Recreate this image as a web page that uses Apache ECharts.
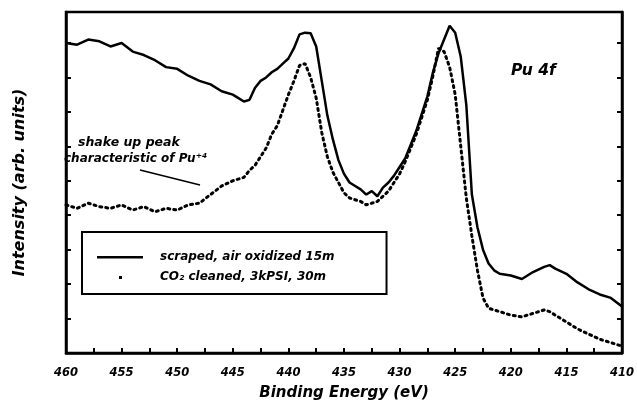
<!DOCTYPE html>
<html><head><meta charset="utf-8">
<script src="https://cdn.jsdelivr.net/npm/echarts@6/dist/echarts.min.js"></script>
<style>html,body{margin:0;padding:0;background:#fff}#c{width:637px;height:404px}</style>
</head><body><div id="c"></div>
<script>
// Binding energies (eV) and intensities (arb. units, tick units)
const scrapedEnergy = [460,459,458,457,456,455,454,453,452,451,450,449,448,447,446,445,444,443.5,443,442.5,442,441.5,441,440.5,440,439.5,439,438.5,438,437.5,437,436.5,436,435.5,435,434.5,434,433.5,433,432.5,432,431.5,431,430.5,430,429.5,429,428.5,428,427.5,427,426.5,426,425.5,425,424.5,424,423.5,423,422.5,422,421.5,421,420,419,418,417,416.5,416,415,414,413,412,411,410];
const scrapedIntensity = [9.0,8.95,9.1,9.05,8.9,9.0,8.75,8.65,8.5,8.3,8.25,8.05,7.9,7.8,7.6,7.5,7.3,7.35,7.7,7.9,8.0,8.15,8.25,8.4,8.55,8.85,9.25,9.3,9.28,8.9,7.9,6.9,6.2,5.6,5.2,4.95,4.85,4.75,4.6,4.7,4.55,4.8,4.95,5.15,5.4,5.65,6.05,6.45,6.95,7.45,8.15,8.7,9.1,9.5,9.3,8.6,7.2,4.6,3.65,3.0,2.6,2.4,2.3,2.25,2.15,2.35,2.5,2.55,2.45,2.3,2.05,1.85,1.7,1.6,1.35];
const cleanedEnergy = [460,459,458,457,456,455,454,453,452,451,450,449,448,447,446,445,444,443.5,443,442.5,442,441.5,441,440.5,440,439.5,439,438.5,438,437.5,437,436.5,436,435.5,435,434.5,434,433.5,433,432.5,432,431.5,431,430.5,430,429.5,429,428.5,428,427.5,427,426.5,426,425.5,425,424.5,424,423.5,423,422.5,422,421.5,421,420,419,418,417,416.5,416,415,414,413,412,411,410];
const cleanedIntensity = [4.3,4.2,4.35,4.25,4.2,4.3,4.15,4.25,4.1,4.2,4.15,4.3,4.35,4.6,4.85,5.0,5.1,5.3,5.45,5.7,5.95,6.35,6.6,7.05,7.5,7.9,8.35,8.4,8.0,7.4,6.4,5.7,5.25,4.95,4.65,4.5,4.45,4.4,4.3,4.35,4.4,4.55,4.7,4.95,5.2,5.55,5.95,6.35,6.85,7.35,8.05,8.85,8.75,8.3,7.5,6.0,4.5,3.4,2.4,1.6,1.3,1.25,1.2,1.1,1.05,1.15,1.25,1.2,1.1,0.9,0.7,0.55,0.4,0.3,0.2];
const seriesNames = ['scraped, air oxidized 15m', 'CO\u2082 cleaned, 3kPSI, 30m'];
const xTicks = {min: 410, max: 460, interval: 5};

const FONT = '"DejaVu Sans", sans-serif';
const pair = (xs, ys) => xs.map((x, i) => [x, ys[i]]);

const chart = echarts.init(document.getElementById('c'), null, {renderer: 'canvas'});
chart.setOption({
  animation: false,
  backgroundColor: '#fff',
  grid: {left: 66, right: 15, top: 12, bottom: 51, show: true, borderColor: '#000', borderWidth: 2.5, containLabel: false, outerBoundsMode: 'none'},
  xAxis: {
    type: 'value', inverse: true, min: xTicks.min, max: xTicks.max, interval: xTicks.interval,
    name: 'Binding Energy (eV)', nameLocation: 'middle', nameGap: 33,
    nameTextStyle: {color: '#000', fontFamily: FONT, fontWeight: 'bold', fontStyle: 'italic', fontSize: 15},
    axisLine: {lineStyle: {color: '#000', width: 2.5}},
    axisTick: {inside: true, length: 5, lineStyle: {color: '#000', width: 2}},
    minorTick: {show: true, splitNumber: 2, length: 5, lineStyle: {color: '#000', width: 2}},
    splitLine: {show: false},
    axisLabel: {color: '#000', fontFamily: FONT, fontWeight: 'bold', fontStyle: 'italic', fontSize: 11.5, margin: 14}
  },
  yAxis: [{
    type: 'value', min: 0, max: 9.9, interval: 1,
    name: 'Intensity (arb. units)', nameLocation: 'middle', nameGap: 38, nameRotate: 90,
    nameTextStyle: {color: '#000', fontFamily: FONT, fontWeight: 'bold', fontStyle: 'italic', fontSize: 16},
    axisLine: {show: true, lineStyle: {color: '#000', width: 2.5}},
    axisTick: {show: true, inside: true, length: 5, lineStyle: {color: '#000', width: 2}},
    axisLabel: {show: false}, splitLine: {show: false}
  }, {
    type: 'value', min: 0, max: 9.9, interval: 1, position: 'right',
    axisLine: {show: true, lineStyle: {color: '#000', width: 2.5}},
    axisTick: {show: true, inside: true, length: 5, lineStyle: {color: '#000', width: 2}},
    axisLabel: {show: false}, splitLine: {show: false}
  }],
  legend: {
    orient: 'vertical', left: 82, top: 232,
    padding: [19, 52, 11, 15], itemGap: 8, itemWidth: 46, itemHeight: 12,
    borderColor: '#000', borderWidth: 2, borderRadius: 0,
    selectedMode: false,
    textStyle: {color: '#000', fontFamily: FONT, fontWeight: 'bold', fontStyle: 'italic', fontSize: 12, padding: [0, 0, 0, 12]},
    data: [
      {name: seriesNames[0], icon: 'path://M0,0M46,12M0,5H46V7.5H0Z'},
      {name: seriesNames[1], icon: 'path://M0,0M46,12M22,5H25V8H22Z'}
    ]
  },
  graphic: [
    {type: 'text', left: 78, top: 136, style: {text: 'shake up peak', fill: '#000', font: 'italic bold 12.5px ' + FONT}},
    {type: 'text', left: 64, top: 153, style: {text: 'characteristic of Pu\u207A\u2074', fill: '#000', font: 'italic bold 12px ' + FONT}},
    {type: 'line', shape: {x1: 140, y1: 170, x2: 200, y2: 185}, style: {stroke: '#000', lineWidth: 1.5}},
    {type: 'text', left: 511, top: 63, style: {text: 'Pu 4f', fill: '#000', font: 'italic bold 15.5px ' + FONT}}
  ],
  series: [{
    name: seriesNames[0], type: 'line', symbol: 'none', smooth: false,
    data: pair(scrapedEnergy, scrapedIntensity),
    itemStyle: {color: '#000'},
    lineStyle: {color: '#000', width: 2.5}
  }, {
    name: seriesNames[1], type: 'line', symbol: 'none', smooth: false,
    data: pair(cleanedEnergy, cleanedIntensity),
    itemStyle: {color: '#000'},
    lineStyle: {color: '#000', width: 3, type: [2, 4], cap: 'round'}
  }]
});
</script></body></html>
